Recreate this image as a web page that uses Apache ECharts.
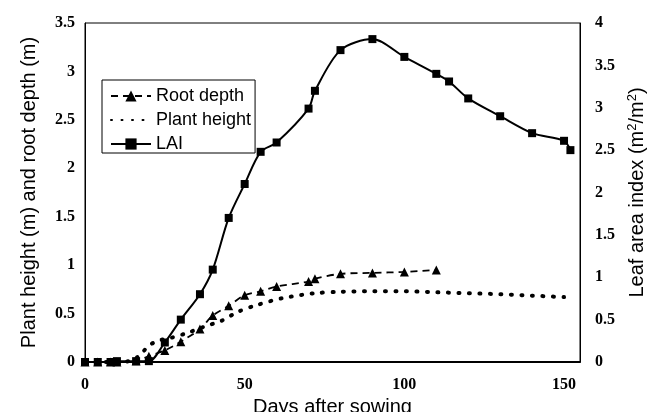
<!DOCTYPE html>
<html>
<head>
<meta charset="utf-8">
<script src="https://cdn.jsdelivr.net/npm/echarts@6/dist/echarts.min.js"></script>
<style>
  html, body { margin: 0; padding: 0; background: #fff; }
  #chart { width: 653px; height: 412px; }
</style>
</head>
<body>
<div id="chart"></div>
<script>
// sampling days and measured values
var laiDays = [0, 4, 8, 10, 16, 20, 25, 30, 36, 40, 45, 50, 55, 60, 70, 72, 80, 90, 100, 110, 114, 120, 130, 140, 150, 152];
var laiValues = [0, 0, 0, 0.01, 0.01, 0.01, 0.23, 0.5, 0.8, 1.09, 1.7, 2.1, 2.48, 2.59, 2.99, 3.2, 3.68, 3.81, 3.6, 3.4, 3.31, 3.11, 2.9, 2.7, 2.61, 2.5];

var rootDays = [0, 4, 8, 10, 16, 20, 25, 30, 36, 40, 45, 50, 55, 60, 70, 72, 80, 90, 100, 110];
var rootValues = [0, 0, 0, 0, 0.01, 0.06, 0.12, 0.21, 0.34, 0.48, 0.58, 0.69, 0.73, 0.78, 0.83, 0.86, 0.91, 0.92, 0.93, 0.95];

var heightDays = [0, 5, 10, 15, 18, 20, 23, 27, 32, 37, 43, 48, 54, 62, 72, 80, 90, 100, 110, 120, 130, 140, 150];
var heightValues = [0, 0, 0, 0.02, 0.1, 0.17, 0.22, 0.25, 0.3, 0.36, 0.43, 0.52, 0.59, 0.66, 0.71, 0.725, 0.73, 0.73, 0.72, 0.71, 0.7, 0.685, 0.67];

function pairs(xs, ys) {
  return xs.map(function (x, i) { return [x, ys[i]]; });
}

var chart = echarts.init(document.getElementById('chart'));
var tickFont = { color: '#000', fontFamily: 'Liberation Serif', fontWeight: 'bold', fontSize: 16 };
var nameFont = { color: '#000', fontFamily: 'Liberation Sans', fontSize: 20 };

var option = {
  animation: false,
  grid: {
    left: 85, right: 73, top: 23, bottom: 50,
    outerBoundsMode: 'none',
    show: true, borderColor: '#000', borderWidth: 1
  },
  legend: {
    orient: 'vertical',
    left: 102, top: 80,
    padding: [7, 4, 0, 8],
    itemGap: 6,
    itemWidth: 40,
    itemHeight: 14,
    backgroundColor: '#fff',
    borderColor: '#000',
    borderWidth: 1,
    borderRadius: 0,
    textStyle: { color: '#000', fontFamily: 'Liberation Sans', fontSize: 18 },
    data: [
      'Root depth',
      { name: 'Plant height', itemStyle: { opacity: 0 } },
      'LAI'
    ]
  },
  xAxis: {
    type: 'value',
    min: 0, max: 155, interval: 50,
    name: 'Days after sowing',
    nameLocation: 'middle',
    nameGap: 32,
    nameTextStyle: nameFont,
    axisLine: { lineStyle: { color: '#000', width: 2 } },
    axisTick: { show: false },
    splitLine: { show: false },
    axisLabel: Object.assign({ margin: 15, showMaxLabel: false }, tickFont)
  },
  yAxis: [{
    type: 'value',
    min: 0, max: 3.5, interval: 0.5,
    name: 'Plant height (m) and root depth (m)',
    nameLocation: 'middle',
    nameRotate: 90,
    nameGap: 46,
    nameTextStyle: nameFont,
    axisLine: { show: true, lineStyle: { color: '#000', width: 1 } },
    axisTick: { show: false },
    splitLine: { show: false },
    axisLabel: Object.assign({ margin: 10 }, tickFont)
  }, {
    type: 'value',
    min: 0, max: 4, interval: 0.5,
    position: 'right',
    name: '{t|Leaf area index (m}{s|2}{t|/m}{s|2}{t|)}',
    nameLocation: 'middle',
    nameRotate: 90,
    nameGap: 46,
    nameTextStyle: Object.assign({
      lineHeight: 22,
      rich: {
        t: { fontFamily: 'Liberation Sans', fontSize: 20, color: '#000', lineHeight: 22 },
        s: { fontFamily: 'Liberation Sans', fontSize: 13, color: '#000', lineHeight: 22, verticalAlign: 'top' }
      }
    }, nameFont),
    axisLine: { show: true, lineStyle: { color: '#000', width: 1 } },
    axisTick: { show: false },
    splitLine: { show: false },
    axisLabel: Object.assign({ margin: 15 }, tickFont)
  }],
  series: [{
    name: 'Root depth',
    type: 'line',
    yAxisIndex: 0,
    smooth: 0.3,
    symbol: 'triangle',
    symbolSize: 9,
    itemStyle: { color: '#000' },
    lineStyle: { color: '#000', width: 1.8, type: [7, 5] },
    data: pairs(rootDays, rootValues)
  }, {
    name: 'Plant height',
    type: 'line',
    yAxisIndex: 0,
    smooth: 0.3,
    symbol: 'none',
    itemStyle: { color: '#000' },
    lineStyle: { color: '#000', width: 4, type: [1, 9.5], cap: 'round' },
    data: pairs(heightDays, heightValues)
  }, {
    name: 'LAI',
    type: 'line',
    yAxisIndex: 1,
    smooth: 0.3,
    symbol: 'rect',
    symbolSize: 8,
    itemStyle: { color: '#000' },
    lineStyle: { color: '#000', width: 2 },
    data: pairs(laiDays, laiValues)
  }]
};
chart.setOption(option);
</script>
</body>
</html>
